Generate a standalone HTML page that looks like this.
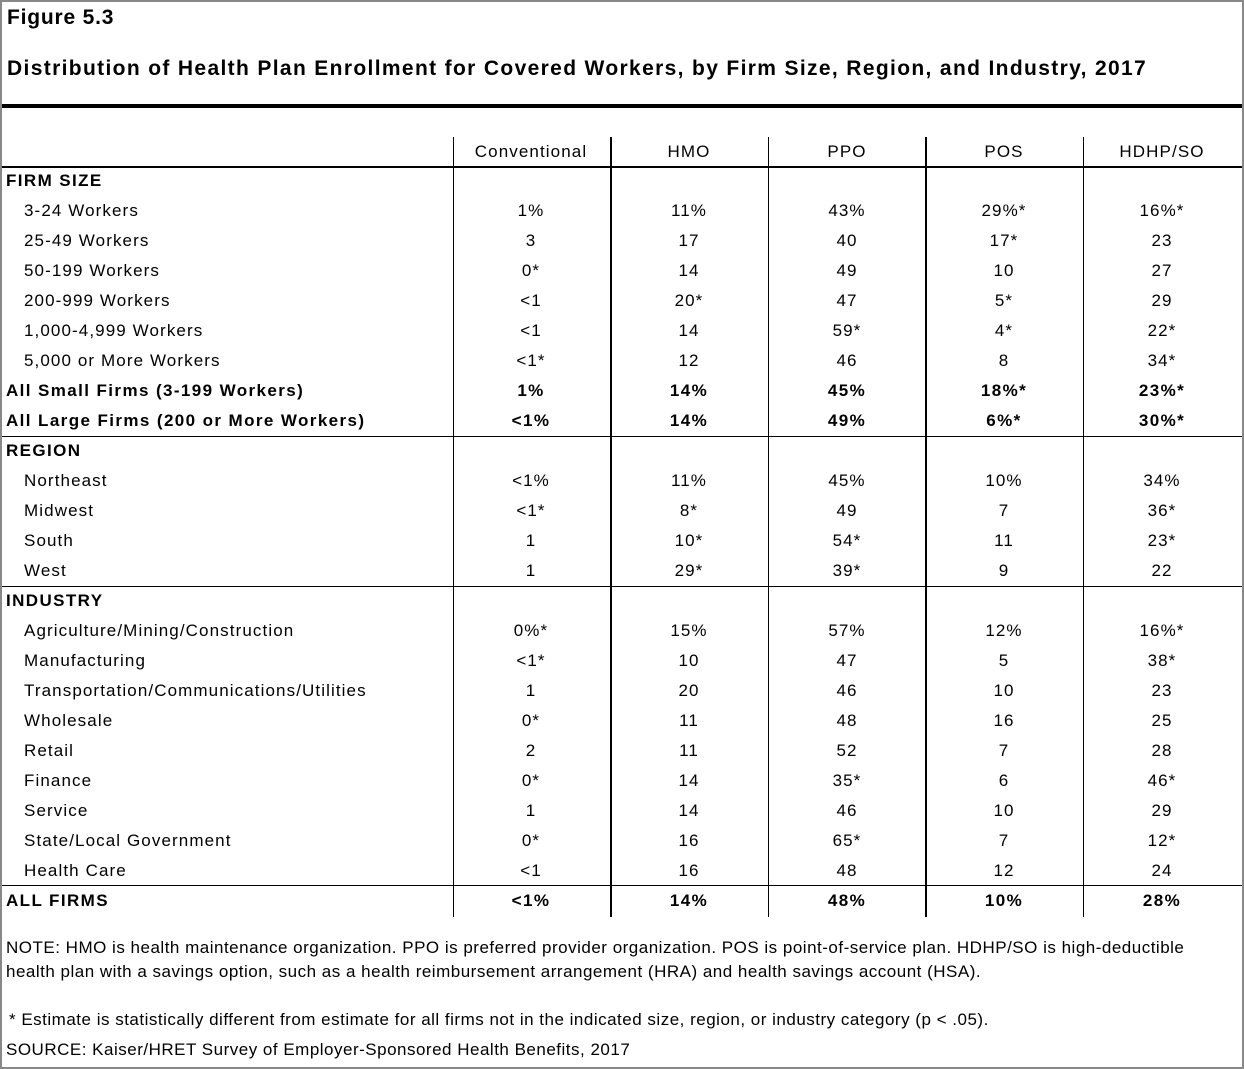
<!DOCTYPE html>
<html><head><meta charset="utf-8"><style>
body{margin:0;width:1244px;height:1069px;background:#fff;position:relative;overflow:hidden;font-family:"Liberation Sans",Arial,sans-serif;color:#000}
.a{position:absolute}
.r{position:absolute;left:0;width:1244px;height:30px;line-height:30px;font-size:17px;letter-spacing:1.1px}
.r.b{letter-spacing:1.4px}
.r span{position:absolute;top:0}
.c{width:140px;text-align:center;margin-left:-70px}
.b{font-weight:bold}
.hl{position:absolute;left:2px;width:1240px;background:#000}
.vl{position:absolute;top:137px;height:780px;background:#000}
.n{font-size:17px;line-height:24px;letter-spacing:0.5px}
</style></head><body>
<div class="a" style="left:0;top:0;width:1240px;height:1065px;border:2px solid #888"></div>
<div class="a b" style="left:7px;top:6px;font-size:21px;letter-spacing:0.8px">Figure 5.3</div>
<div class="a b" style="left:7px;top:57px;font-size:21px;letter-spacing:1.35px">Distribution of Health Plan Enrollment for Covered Workers, by Firm Size, Region, and Industry, 2017</div>
<div class="hl" style="top:104px;height:4px"></div>
<div class="hl" style="top:166px;height:2px"></div>
<div class="hl" style="top:436px;height:1px"></div>
<div class="hl" style="top:586px;height:1px"></div>
<div class="hl" style="top:885px;height:1px"></div>
<div class="vl" style="left:453px;width:1px"></div>
<div class="vl" style="left:610px;width:2px"></div>
<div class="vl" style="left:768px;width:1px"></div>
<div class="vl" style="left:925px;width:2px"></div>
<div class="vl" style="left:1083px;width:1px"></div>
<div class="r" style="top:137px"><span class="c" style="left:531px">Conventional</span><span class="c" style="left:689px">HMO</span><span class="c" style="left:847px">PPO</span><span class="c" style="left:1004px">POS</span><span class="c" style="left:1162px">HDHP/SO</span></div>
<div id="rows"></div>
<script>
var d=[
["FIRM SIZE",1],
["3-24 Workers",0,"1%","11%","43%","29%*","16%*"],
["25-49 Workers",0,"3","17","40","17*","23"],
["50-199 Workers",0,"0*","14","49","10","27"],
["200-999 Workers",0,"<1","20*","47","5*","29"],
["1,000-4,999 Workers",0,"<1","14","59*","4*","22*"],
["5,000 or More Workers",0,"<1*","12","46","8","34*"],
["All Small Firms (3-199 Workers)",2,"1%","14%","45%","18%*","23%*"],
["All Large Firms (200 or More Workers)",2,"<1%","14%","49%","6%*","30%*"],
["REGION",1],
["Northeast",0,"<1%","11%","45%","10%","34%"],
["Midwest",0,"<1*","8*","49","7","36*"],
["South",0,"1","10*","54*","11","23*"],
["West",0,"1","29*","39*","9","22"],
["INDUSTRY",1],
["Agriculture/Mining/Construction",0,"0%*","15%","57%","12%","16%*"],
["Manufacturing",0,"<1*","10","47","5","38*"],
["Transportation/Communications/Utilities",0,"1","20","46","10","23"],
["Wholesale",0,"0*","11","48","16","25"],
["Retail",0,"2","11","52","7","28"],
["Finance",0,"0*","14","35*","6","46*"],
["Service",0,"1","14","46","10","29"],
["State/Local Government",0,"0*","16","65*","7","12*"],
["Health Care",0,"<1","16","48","12","24"],
["ALL FIRMS",2,"<1%","14%","48%","10%","28%"]];
var cx=[531,689,847,1004,1162],h="";
function e(s){return s.replace(/</g,"&lt;")}
d.forEach(function(r,i){
 var bold=r[1]>0;h+='<div class="r'+(bold?' b':'')+'" style="top:'+(166+30*i)+'px"><span style="left:'+(r[1]?6:24)+'px">'+e(r[0])+'</span>';
 for(var k=0;k<5&&r[2+k]!==undefined;k++)h+='<span class="c" style="left:'+cx[k]+'px">'+e(r[2+k])+'</span>';
 h+='</div>';});
document.getElementById("rows").innerHTML=h;
</script>
<div class="a n" style="left:6px;top:936px;width:1225px">NOTE: HMO is health maintenance organization. PPO is preferred provider organization. POS is point-of-service plan. HDHP/SO is high-deductible health plan with a savings option, such as a health reimbursement arrangement (HRA) and health savings account (HSA).</div>
<div class="a n" style="left:9px;top:1008px">* Estimate is statistically different from estimate for all firms not in the indicated size, region, or industry category (p &lt; .05).</div>
<div class="a n" style="left:6px;top:1038px">SOURCE: Kaiser/HRET Survey of Employer-Sponsored Health Benefits, 2017</div>
</body></html>
